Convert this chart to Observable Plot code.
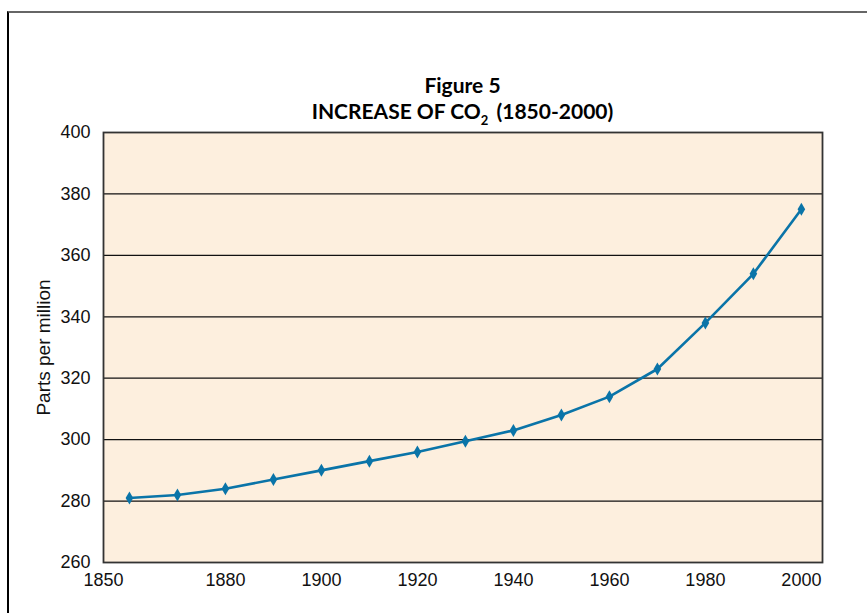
<!DOCTYPE html>
<html>
<head>
<meta charset="utf-8">
<script src="https://cdn.jsdelivr.net/npm/d3@7"></script>
<script src="https://cdn.jsdelivr.net/npm/@observablehq/plot@0.6"></script>
<style>
  html, body { margin: 0; padding: 0; background: #fff; overflow: hidden; }
  #wrap { position: relative; width: 867px; height: 613px; }
  #frame { position: absolute; left: 7px; top: 11px; width: 1000px; height: 800px;
           border-left: 2.5px solid #000; border-top: 2px solid #666; box-sizing: border-box; }
  #title { position: absolute; left: 103px; width: 719px; top: 72px; text-align: center;
           font-family: Lato, "Open Sans", sans-serif; font-weight: bold; font-size: 21px;
           line-height: 26px; color: #000; }
  #title sub { font-size: 13px; vertical-align: -6px; line-height: 0; margin-right: 3px; }
  #chart { position: absolute; left: 0; top: 0; }
</style>
</head>
<body>
<div id="wrap">
  <div id="frame"></div>
  <div id="chart"></div>
  <div id="title">Figure 5<br>INCREASE OF CO<sub>2</sub> (1850-2000)</div>
</div>
<script>
const years = [1860, 1870, 1880, 1890, 1900, 1910, 1920, 1930, 1940, 1950, 1960, 1970, 1980, 1990, 2000];
const ppm   = [281, 282, 284, 287, 290, 293, 296, 299.5, 303, 308, 314, 323, 338, 354, 375];
const yTicks = [260, 280, 300, 320, 340, 360, 380, 400];
const gridLines = [280, 300, 320, 340, 360, 380];
const xTickValues = [1854.6, 1880, 1900, 1920, 1940, 1960, 1980, 2000];
const xTickLabels = ["1850", "1880", "1900", "1920", "1940", "1960", "1980", "2000"];
const yLabel = "Parts per million";

const data = years.map((y, i) => ({year: y, ppm: ppm[i]}));

const tallDiamond = {
  draw(ctx) {
    const w = 3.8, h = 6.5;
    ctx.moveTo(0, -h); ctx.lineTo(w, 0); ctx.lineTo(0, h); ctx.lineTo(-w, 0); ctx.closePath();
  }
};

const chart = Plot.plot({
  width: 867,
  height: 613,
  marginLeft: 103,
  marginRight: 45,
  marginTop: 132,
  marginBottom: 51,
  style: {fontFamily: "'Liberation Sans', Arial, sans-serif", fontSize: "18px", color: "#111", background: "transparent"},
  x: {domain: [1854.6, 2004.4]},
  y: {domain: [260, 400]},
  marks: [
    Plot.frame({fill: "#fdefde"}),
    Plot.ruleY(gridLines, {stroke: "#111", strokeWidth: 1.2}),
    Plot.frame({stroke: "#333", strokeWidth: 1.8}),
    Plot.axisX({ticks: xTickValues, tickSize: 0, tickPadding: 11, fontSize: 18,
      tickFormat: d => xTickLabels[xTickValues.indexOf(d)], label: null}),
    Plot.axisY({ticks: yTicks, tickSize: 0, tickPadding: 13, fontSize: 18, label: null}),
    Plot.text([yLabel], {frameAnchor: "left", textAnchor: "middle", dx: -60, rotate: -90, fontSize: 19, text: d => d}),
    Plot.line(data, {x: "year", y: "ppm", stroke: "#0a74a8", strokeWidth: 2.6}),
    Plot.dot(data, {x: "year", y: "ppm", symbol: tallDiamond, fill: "#0a74a8", stroke: "none"})
  ]
});
document.getElementById("chart").appendChild(chart);
</script>
</body>
</html>
